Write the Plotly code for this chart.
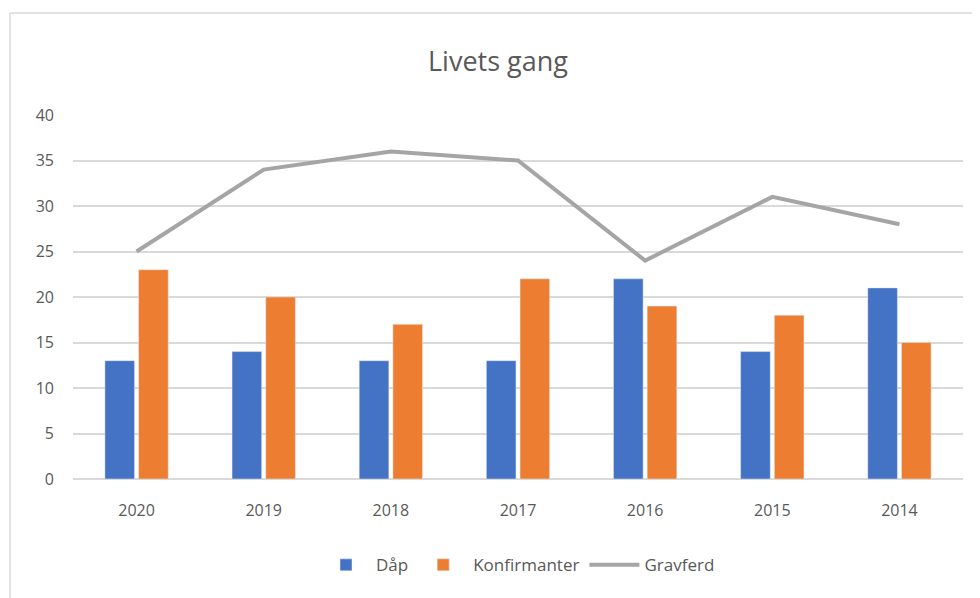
import plotly.graph_objects as go

years = ['2020', '2019', '2018', '2017', '2016', '2015', '2014']
daap = [13, 14, 13, 13, 22, 14, 21]
konfirmanter = [23, 20, 17, 22, 19, 18, 15]
gravferd = [25, 34, 36, 35, 24, 31, 28]

text_col = '#595959'
font_family = 'Open Sans, Liberation Sans, sans-serif'

fig = go.Figure()
fig.add_trace(go.Bar(x=years, y=daap, name='Dåp', marker=dict(color='#4472c4')))
fig.add_trace(go.Bar(x=years, y=konfirmanter, name='Konfirmanter', marker=dict(color='#ed7d31')))
fig.add_trace(go.Scatter(x=years, y=gravferd, name='Gravferd', mode='lines',
                         line=dict(color='#a5a5a5', width=4)))

fig.update_layout(
    width=980, height=598,
    autosize=False,
    margin=dict(l=65, r=25, t=107, b=127),
    paper_bgcolor='white',
    plot_bgcolor='white',
    font=dict(family=font_family, size=16, color=text_col),
    title=dict(text='Livets gang', x=0.5, xanchor='center', y=0.91, yanchor='middle',
               font=dict(size=27, color=text_col)),
    barmode='group',
    bargap=0.47,
    bargroupgap=0.12,
    showlegend=True,
    legend=dict(orientation='h', x=0.5, xanchor='center', y=-0.237, yanchor='middle',
                font=dict(size=17, color=text_col), traceorder='normal', itemwidth=50),
)
fig.update_yaxes(range=[0, 40], dtick=5, showgrid=True, gridcolor='#d9d9d9', gridwidth=1.5,
                 zeroline=True, zerolinecolor='#d9d9d9', zerolinewidth=1.5,
                 ticks='', ticklabelstandoff=18, fixedrange=True)
fig.update_xaxes(showgrid=False, showline=False, ticks='', ticklabelstandoff=20, fixedrange=True)

# chart border (left and top visible)
fig.add_shape(type='line', xref='paper', yref='paper', x0=-0.0708, x1=1.1, y0=1.28, y1=1.28,
              line=dict(color='#d9d9d9', width=1.5))
fig.add_shape(type='line', xref='paper', yref='paper', x0=-0.0708, x1=-0.0708, y0=1.28, y1=-0.4,
              line=dict(color='#d9d9d9', width=1.5))

fig.write_html('out.html')
